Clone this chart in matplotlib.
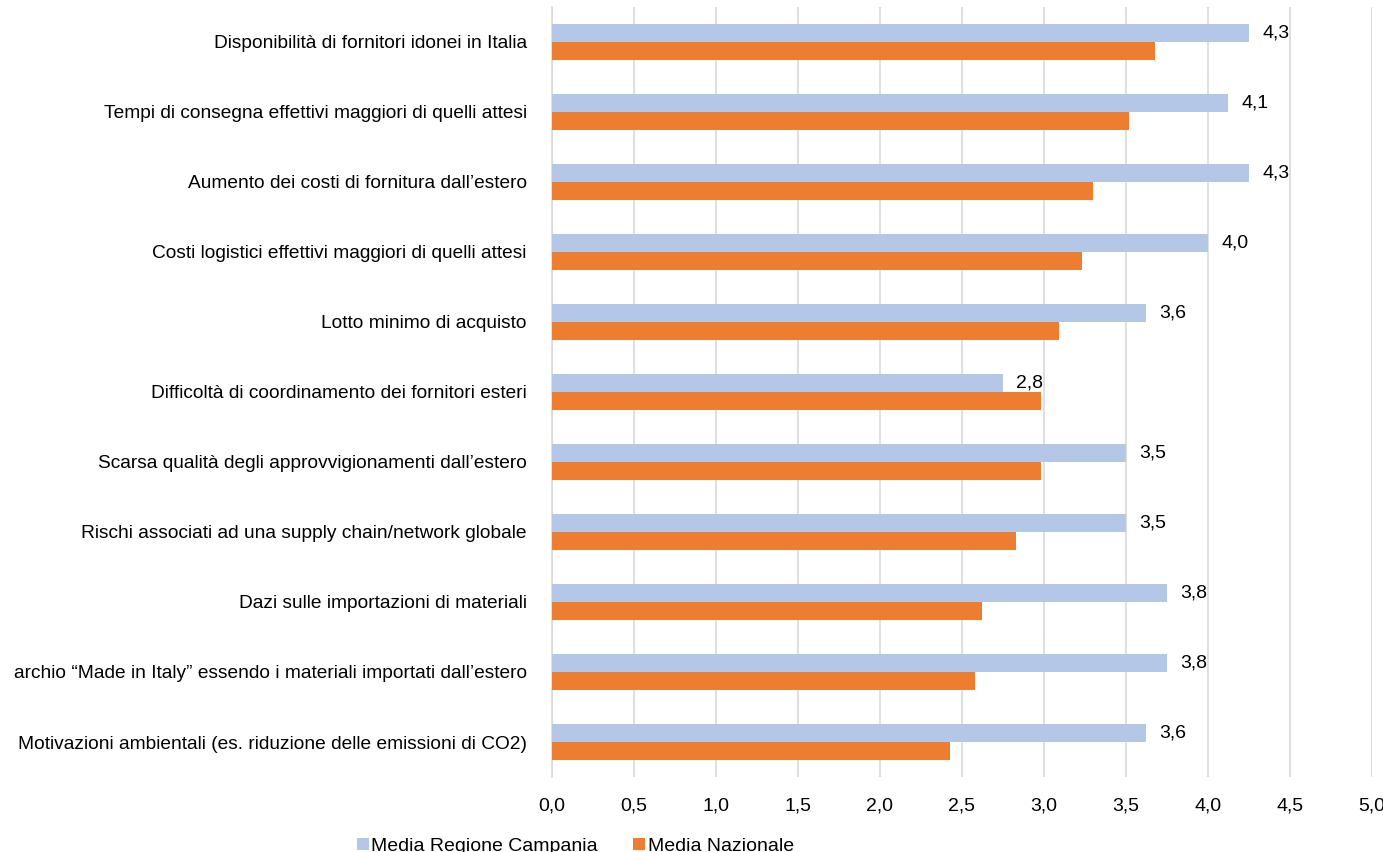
import matplotlib.pyplot as plt
import numpy as np
from decimal import Decimal, ROUND_HALF_UP

plt.rcParams['font.family'] = ['Liberation Sans', 'DejaVu Sans']

categorie = [
    "Disponibilità di fornitori idonei in Italia",
    "Tempi di consegna effettivi maggiori di quelli attesi",
    "Aumento dei costi di fornitura dall’estero",
    "Costi logistici effettivi maggiori di quelli attesi",
    "Lotto minimo di acquisto",
    "Difficoltà di coordinamento dei fornitori esteri",
    "Scarsa qualità degli approvvigionamenti dall’estero",
    "Rischi associati ad una supply chain/network globale",
    "Dazi sulle importazioni di materiali",
    "archio “Made in Italy” essendo i materiali importati dall’estero",
    "Motivazioni ambientali (es. riduzione delle emissioni di CO2)",
]
campania = [4.25, 4.125, 4.25, 4.0, 3.625, 2.75, 3.5, 3.5, 3.75, 3.75, 3.625]
nazionale = [3.68, 3.52, 3.30, 3.23, 3.09, 2.98, 2.98, 2.83, 2.62, 2.58, 2.43]
xticks = [0, 0.5, 1, 1.5, 2, 2.5, 3, 3.5, 4, 4.5, 5]

blu = '#B4C7E7'
arancio = '#ED7D31'


def virgola(v):
    return str(Decimal(str(v)).quantize(Decimal('0.1'), rounding=ROUND_HALF_UP)).replace('.', ',')


fig = plt.figure(figsize=(13.83, 8.52), dpi=100)
ax = fig.add_axes([0.399, 0.088, 0.593, 0.904])

y = np.arange(len(categorie))
h = 0.257
ax.barh(y - h / 2, campania, height=h, color=blu, label='Media Regione Campania', zorder=3)
ax.barh(y + h / 2, nazionale, height=h, color=arancio, label='Media Nazionale', zorder=3)

for yi, v in zip(y, campania):
    ax.annotate(virgola(v), (v, yi - h / 2), xytext=(9.5, 0), textcoords='offset points',
                va='center', ha='left', fontsize=14, color='#000000')

ax.set_ylim(len(categorie) - 0.5, -0.5)
ax.set_xlim(0, 5)
ax.set_yticks(y)
ax.set_yticklabels(categorie, fontsize=13.8)
ax.set_xticks(xticks)
ax.set_xticklabels([virgola(t) for t in xticks], fontsize=14)
ax.tick_params(axis='both', length=0, colors='#000000')
ax.tick_params(axis='y', pad=18)
ax.tick_params(axis='x', pad=14.5)
ax.grid(axis='x', color='#D9D9D9', linewidth=1.2, zorder=0)
for s in ['top', 'right', 'bottom']:
    ax.spines[s].set_visible(False)
ax.spines['left'].set_color('#D9D9D9')
ax.spines['left'].set_linewidth(1.2)

fig.legend(loc='center', bbox_to_anchor=(0.416, 0.007), ncol=2, frameon=False, fontsize=14,
           handlelength=0.6, handleheight=0.6, handletextpad=0.15, columnspacing=1.8)

fig.savefig('out.png', dpi=100)
